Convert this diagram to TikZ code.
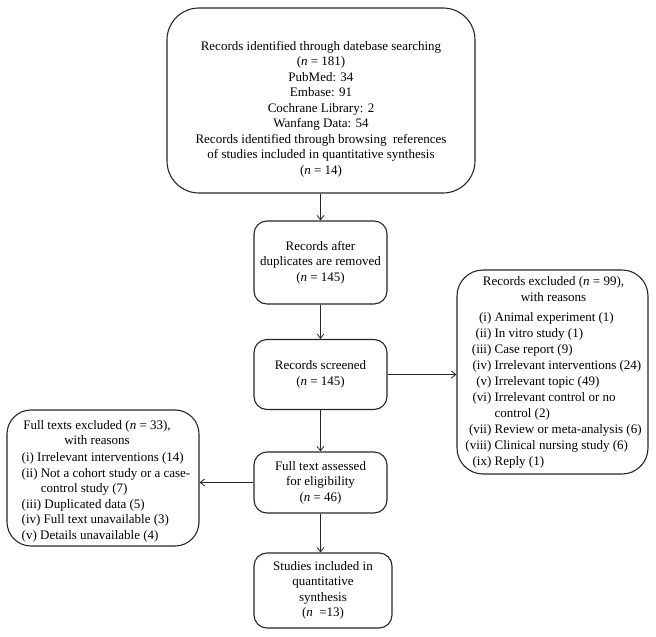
\documentclass[tikz,border=0pt]{standalone}
\usepackage{fontspec}
\setmainfont{Liberation Serif}
\usetikzlibrary{arrows.meta}
\begin{document}
\begin{tikzpicture}[x=1pt,y=-1pt,
  frame/.style={draw=black!85, line width=1.1pt, inner sep=0pt},
  smallbox/.style={frame, rounded corners=13pt, align=center, minimum width=133pt,
    font=\fontsize{13}{15.5}\selectfont},
  txt/.style={inner sep=0pt, align=center, font=\fontsize{13}{15.5}\selectfont},
  arr/.style={-{Straight Barb[length=4.5pt,width=7pt]}, line width=0.8pt, draw=black!85}]
\useasboundingbox (0,0) rectangle (656,637);

% top box
\node[frame, rounded corners=32pt, minimum width=308pt, minimum height=185pt] (top) at (321,100.5) {};
\node[txt, anchor=north] (toptxt) at (321,41) {Records identified through datebase searching\\
(\textit{n} = 181)\\
PubMed: 34\\
Embase: 91\\
Cochrane Library: 2\\
Wanfang Data: 54\\
Records identified through browsing~ references\\
of studies included in quantitative synthesis\\
(\textit{n} = 14)};

% central boxes
\node[smallbox, minimum height=83pt] (dup) at (320.5,262.5) {Records after\\duplicates are removed\\(\textit{n} = 145)};
\node[smallbox, minimum height=70pt] (scr) at (320.5,374.5) {Records screened\\(\textit{n} = 145)};
\node[smallbox, minimum height=61pt] (full) at (320.5,482.5) {Full text assessed\\for eligibility\\(\textit{n} = 46)};
\node[smallbox, minimum width=138pt, minimum height=75pt] (incl) at (323,590.5) {Studies included in\\quantitative\\synthesis\\(\textit{n}~ =13)};

% right box
\node[frame, rounded corners=26pt, minimum width=191pt, minimum height=204pt] (rbox) at (552.5,372) {};
\node[txt, anchor=north, font=\fontsize{13}{16}\selectfont] (rtxt) at (553.5,276) {Records excluded (\textit{n} = 99),\\
with reasons\\[4pt]
\begin{tabular}[t]{@{}r@{ }l@{}}
(i) & Animal experiment (1)\\
(ii) & In vitro study (1)\\
(iii) & Case report (9)\\
(iv) & Irrelevant interventions (24)\\
(v) & Irrelevant topic (49)\\
(vi) & Irrelevant control or no\\
 & control (2)\\
(vii) & Review or meta-analysis (6)\\
(viii) & Clinical nursing study (6)\\
(ix) & Reply (1)
\end{tabular}};

% left box
\node[frame, rounded corners=24pt, minimum width=192pt, minimum height=136pt] (lbox) at (103,478) {};
\node[txt, anchor=north, font=\fontsize{13}{15.5}\selectfont] (ltxt) at (106,418) {%
\begin{tabular}[t]{@{}l@{}}
\multicolumn{1}{@{}c@{\hspace{18pt}}}{Full texts excluded (\textit{n} = 33),}\\
\multicolumn{1}{@{}c@{\hspace{18pt}}}{with reasons}\\[1.5pt]
(i) Irrelevant interventions (14)\\
(ii) Not a cohort study or a case-\\
\phantom{(ii) }control study (7)\\
(iii) Duplicated data (5)\\
(iv) Full text unavailable (3)\\
(v) Details unavailable (4)
\end{tabular}};

% connectors
\draw[arr] (dup.north |- top.south) -- (dup.north);
\draw[arr] (dup.south) -- (scr.north);
\draw[arr] (scr.south) -- (full.north);
\draw[arr] (full.south) -- (full.south |- incl.north);
\draw[arr] (scr.east) -- (scr.east -| rbox.west);
\draw[arr] (full.west) -- (full.west -| lbox.east);
\end{tikzpicture}
\end{document}
